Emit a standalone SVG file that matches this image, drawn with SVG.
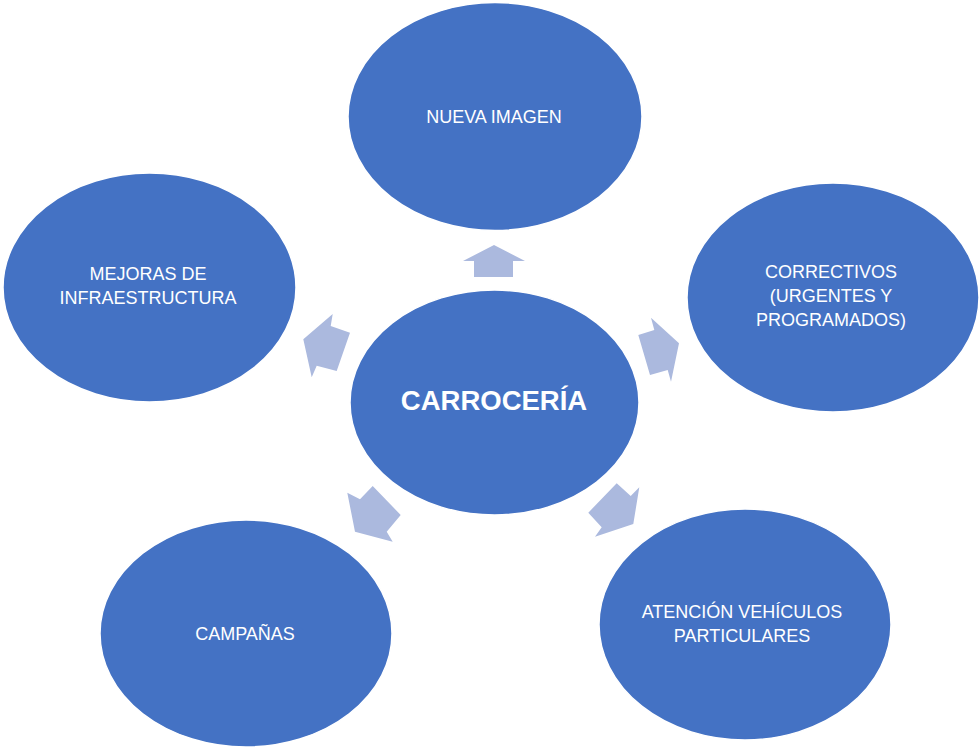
<svg xmlns="http://www.w3.org/2000/svg" width="980" height="748" viewBox="0 0 980 748">
  <style>
    .node { fill: #4472c4; stroke: #ffffff; stroke-width: 1.5; }
    .lbl { font-family: "Liberation Sans", Arial, sans-serif; font-size: 18px; fill: #ffffff; text-anchor: middle; }
    .main { font-family: "Liberation Sans", Arial, sans-serif; font-size: 27.5px; font-weight: bold; fill: #ffffff; text-anchor: middle; }
    .arrow { fill: #abb9de; stroke: none; }
  </style>
  <rect x="0" y="0" width="980" height="748" fill="#ffffff"/>
  <g id="connectors">
    <polygon class="arrow" points="494,245 525,261 513,261 513,277 474,277 474,261 463,261"/>
    <polygon class="arrow" points="303.3,339.3 332.7,314 330.7,326 350,332.7 336.7,371 316.7,365.7 311.7,377.3"/>
    <polygon class="arrow" points="679,343.3 651,317.7 654.3,330 638.3,335 650,375 667.7,370 671,381.7"/>
    <polygon class="arrow" points="355,531.7 347.3,492.7 360,499.3 372.7,486 400.7,515 386.7,531.7 392.7,541.7"/>
    <polygon class="arrow" points="633.3,524 639.3,487.3 630.7,496 616.7,483.3 588.3,512.7 601.7,527.3 595,536.7"/>
  </g>
  <g id="node-center">
    <ellipse class="node" cx="494.5" cy="402.5" rx="144.5" ry="112.5"/>
    <text class="main" x="494" y="410">CARROCERÍA</text>
  </g>
  <g id="node-nueva-imagen">
    <ellipse class="node" cx="495" cy="116.5" rx="147" ry="114"/>
    <text class="lbl" x="494" y="123">NUEVA IMAGEN</text>
  </g>
  <g id="node-mejoras">
    <ellipse class="node" cx="149.5" cy="287.5" rx="146.5" ry="114.5"/>
    <text class="lbl" x="148" y="280">MEJORAS DE</text>
    <text class="lbl" x="148" y="304">INFRAESTRUCTURA</text>
  </g>
  <g id="node-correctivos">
    <ellipse class="node" cx="833" cy="297.5" rx="146" ry="114.5"/>
    <text class="lbl" x="831" y="278">CORRECTIVOS</text>
    <text class="lbl" x="831" y="302">(URGENTES Y</text>
    <text class="lbl" x="831" y="326">PROGRAMADOS)</text>
  </g>
  <g id="node-campanas">
    <ellipse class="node" cx="246" cy="633.5" rx="146" ry="113.5"/>
    <text class="lbl" x="245" y="640">CAMPAÑAS</text>
  </g>
  <g id="node-atencion">
    <ellipse class="node" cx="745" cy="624.5" rx="146" ry="115.5"/>
    <text class="lbl" x="742" y="618">ATENCIÓN VEHÍCULOS</text>
    <text class="lbl" x="742" y="642">PARTICULARES</text>
  </g>
</svg>
